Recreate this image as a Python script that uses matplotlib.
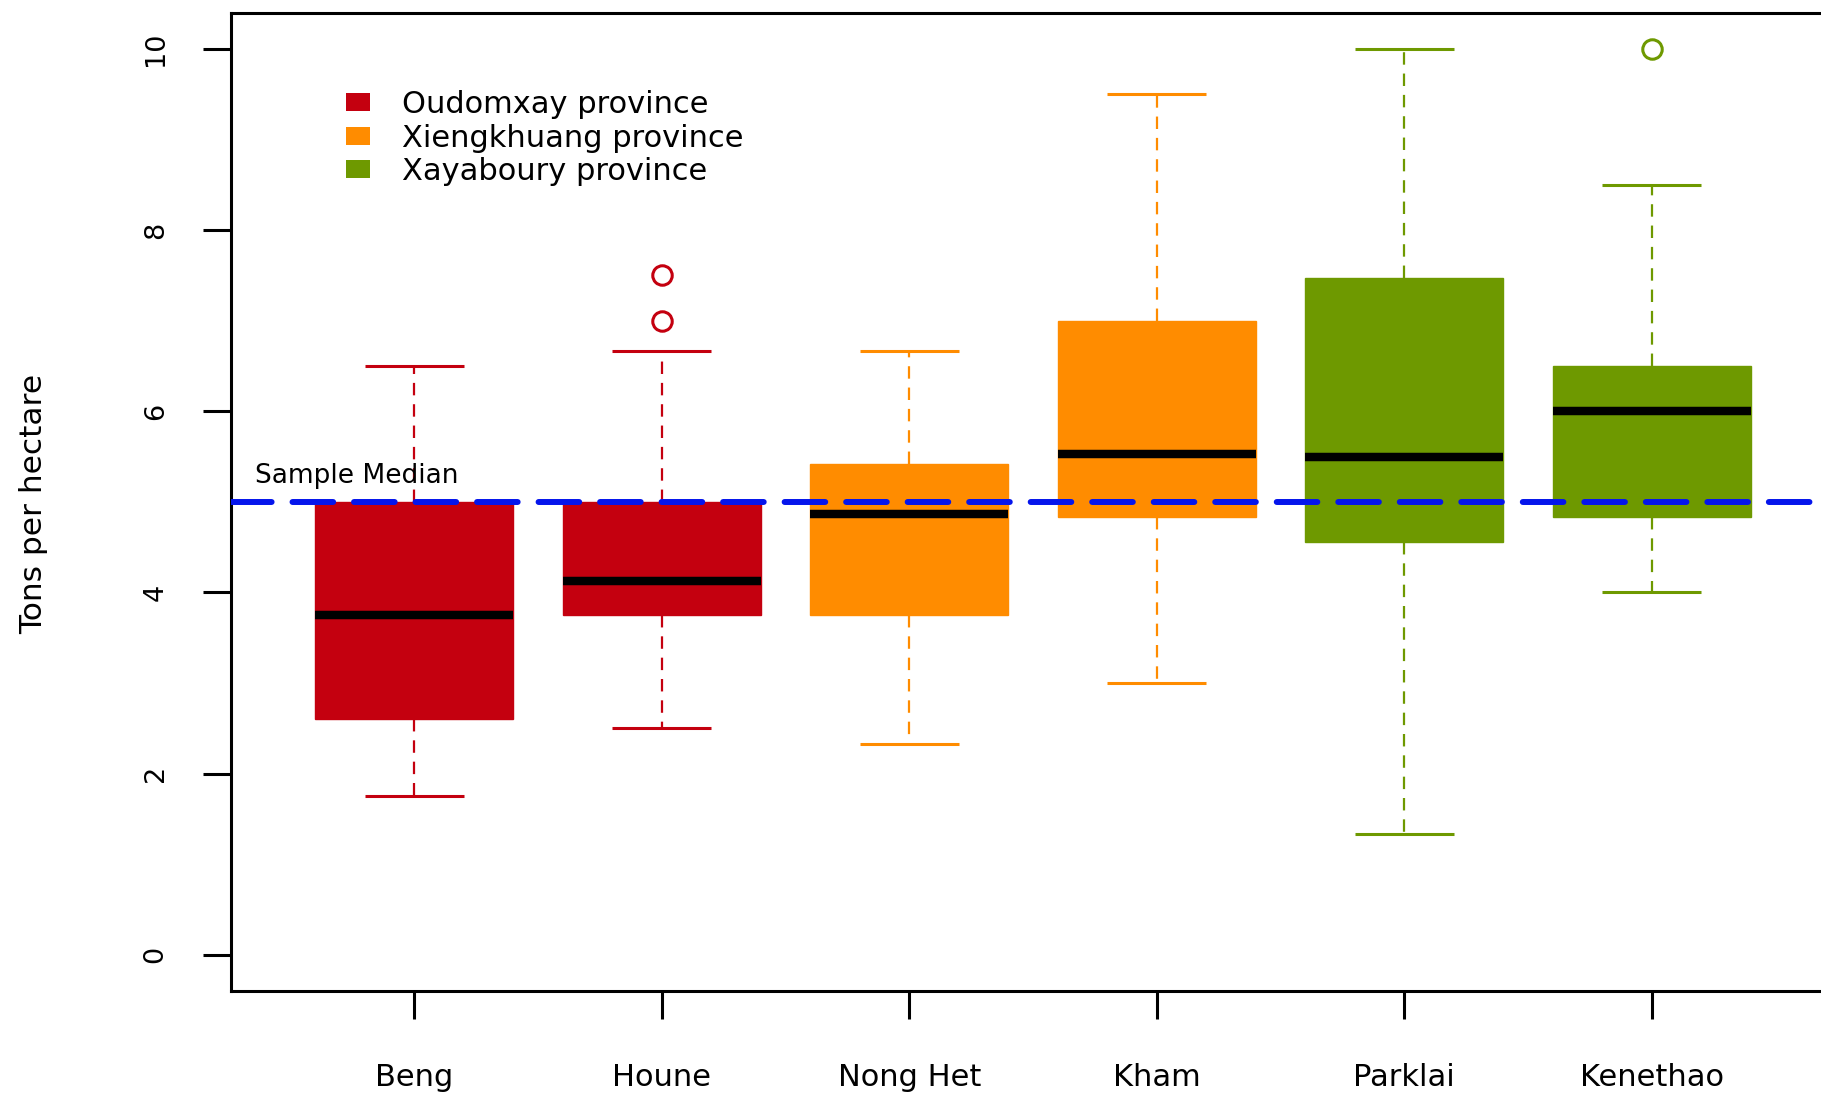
import matplotlib.pyplot as plt
from matplotlib.patches import Rectangle

# Rice yield per district, grouped by province
districts = ["Beng", "Houne", "Nong Het", "Kham", "Parklai", "Kenethao"]
provinces = ["Oudomxay province", "Xiengkhuang province", "Xayaboury province"]
province_colors = ["#C4000F", "#FF8C00", "#6E9900"]
district_province = [0, 0, 1, 1, 2, 2]

# five-number summaries (tons per hectare)
whisker_low = [1.75, 2.5, 2.33, 3.0, 1.33, 4.0]
q1 = [2.6, 3.75, 3.75, 4.83, 4.56, 4.83]
medians = [3.75, 4.13, 4.87, 5.53, 5.5, 6.0]
q3 = [5.0, 5.0, 5.42, 7.0, 7.47, 6.5]
whisker_high = [6.5, 6.67, 6.67, 9.5, 10.0, 8.5]
outliers = [[], [7.0, 7.5], [], [], [], [10.0]]

sample_median = 5.0
yticks = [0, 2, 4, 6, 8, 10]

fig = plt.figure(figsize=(18.21, 10.94), dpi=100)
ax = fig.add_axes([0.1266, 0.0941, 0.8811, 0.8944])

stats = [
    dict(label=d, whislo=lo, q1=a, med=m, q3=b, whishi=hi, fliers=f)
    for d, lo, a, m, b, hi, f in zip(districts, whisker_low, q1, medians,
                                     q3, whisker_high, outliers)
]
positions = list(range(1, len(districts) + 1))
parts = ax.bxp(stats, positions=positions, widths=0.8, capwidths=0.4,
               patch_artist=True, showfliers=True, manage_ticks=False)

for i, box in enumerate(parts["boxes"]):
    col = province_colors[district_province[i]]
    box.set_facecolor(col)
    box.set_edgecolor(col)
    box.set_linewidth(1)
    for w in parts["whiskers"][2 * i:2 * i + 2]:
        w.set_color(col)
        w.set_linewidth(1.6)
        w.set_linestyle((0, (5.6, 4.0)))
    for c in parts["caps"][2 * i:2 * i + 2]:
        c.set_color(col)
        c.set_linewidth(2.2)
        c.set_solid_capstyle("butt")
    med = parts["medians"][i]
    med.set_color("black")
    med.set_linewidth(6.1)
    med.set_solid_capstyle("butt")
    fl = parts["fliers"][i]
    fl.set_marker("o")
    fl.set_markerfacecolor("none")
    fl.set_markeredgecolor(col)
    fl.set_markersize(14)
    fl.set_markeredgewidth(2.2)

# overall sample median
ax.axhline(sample_median, color="#0515EC", linewidth=4.3,
           linestyle=(0, (6.8, 3.5)), dash_capstyle="round", zorder=5)
ax.text(0.357, sample_median + 0.21, "Sample Median", fontsize=19,
        va="baseline", ha="left")

ax.set_xlim(0.258, 6.74)
ax.set_ylim(-0.4, 10.4)
ax.set_xticks(positions, districts)
ax.set_yticks(yticks, [str(t) for t in yticks])

ax.tick_params(axis="x", length=20, width=2.2, pad=32, labelsize=22)
ax.tick_params(axis="y", length=20, width=2.2, pad=24.5, labelsize=19.5,
               labelrotation=90)
for lab in ax.get_yticklabels():
    lab.set_va("center")

for side in ["left", "top", "bottom"]:
    ax.spines[side].set_linewidth(2.2)
ax.spines["right"].set_visible(False)

fig.text(0.0267, 0.5393, "Tons per hectare", rotation=90, fontsize=22.5,
         ha="right", va="center")

# legend: colour squares with province names
for i, (name, col) in enumerate(zip(provinces, province_colors)):
    yc = 0.9085 - i * 0.0342
    ax.add_patch(Rectangle((0.0717, yc - 0.0092), 0.0150, 0.0184,
                           transform=ax.transAxes, facecolor=col,
                           edgecolor="none", clip_on=False))
    ax.text(0.1067, yc - 0.0115, name, transform=ax.transAxes,
            fontsize=22, va="baseline", ha="left")

fig.savefig("out.png", dpi=100)
